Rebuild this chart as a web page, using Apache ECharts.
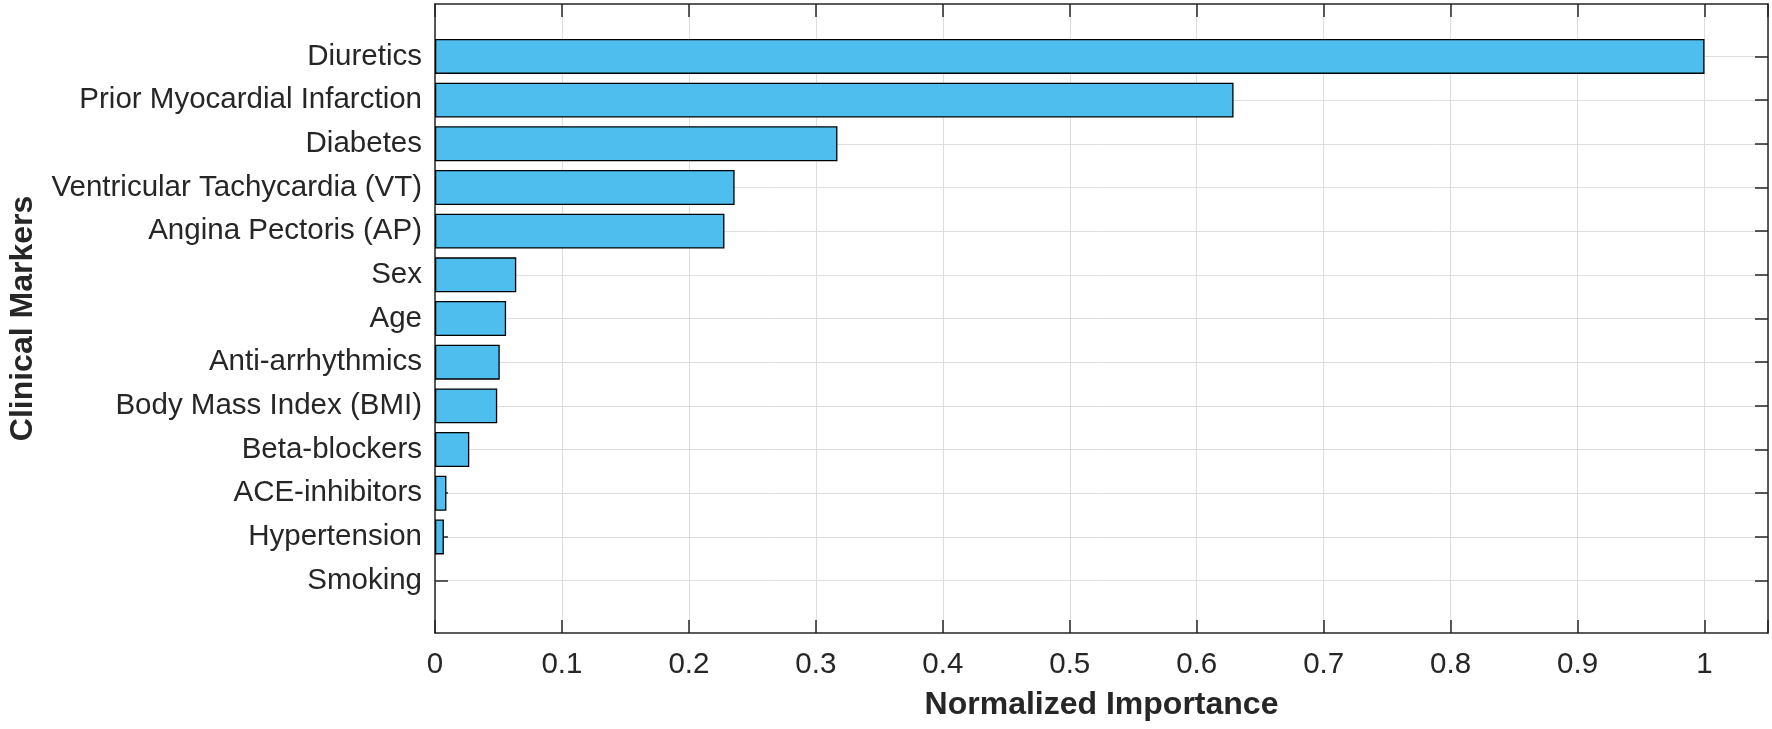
<!DOCTYPE html>
<html>
<head>
<meta charset="utf-8">
<script src="https://cdn.jsdelivr.net/npm/echarts@6/dist/echarts.min.js"></script>
<style>
html,body{margin:0;padding:0;background:#fff;}
#chart{width:1772px;height:729px;}
</style>
</head>
<body>
<div id="chart"></div>
<script>
// Data (top to bottom as in the picture)
const categories = [
  'Diuretics', 'Prior Myocardial Infarction', 'Diabetes', 'Ventricular Tachycardia (VT)',
  'Angina Pectoris (AP)', 'Sex', 'Age', 'Anti-arrhythmics', 'Body Mass Index (BMI)',
  'Beta-blockers', 'ACE-inhibitors', 'Hypertension', 'Smoking'
];
const importance = [1.0, 0.629, 0.317, 0.236, 0.228, 0.064, 0.056, 0.051, 0.049, 0.027, 0.009, 0.007, 0.0];
const xTicks = [0, 0.1, 0.2, 0.3, 0.4, 0.5, 0.6, 0.7, 0.8, 0.9, 1];

// Build bottom-to-top arrays padded with empty slots (axis limits beyond first/last bar)
const yCats = [''].concat(categories.slice().reverse(), ['']);
const yVals = ['-'].concat(importance.slice().reverse().map(function (v) {
  return v === 0 ? {value: v, itemStyle: {borderWidth: 0}} : v;
}), ['-']);

const FONT = 'Liberation Sans, Arial, Helvetica, sans-serif';
const DARK = '#262626';
const GRIDC = '#dedede';
const TICKFS = 29.5;

// layout
const L = 435, R = 4, T = 4, B = 96;
const H = 729 - T - B;
const unit = H / 14.4;
const pad = unit * 0.2;

const showCat = function (idx, val) { return val !== ''; };

const chart = echarts.init(document.getElementById('chart'), null, {renderer: 'canvas'});
chart.setOption({
  animation: false,
  backgroundColor: '#fff',
  grid: [
    {left: L, right: R, top: T, bottom: B, containLabel: false, outerBoundsMode: 'none'},
    {left: L, right: R, top: T + pad, bottom: B + pad, containLabel: false, outerBoundsMode: 'none'}
  ],
  xAxis: [
    {
      gridIndex: 0, type: 'value', min: 0, max: 1.05, interval: 0.1, position: 'bottom',
      axisLine: {show: true, onZero: false, lineStyle: {color: DARK, width: 1.5}},
      axisTick: {show: true, inside: true, length: 13, lineStyle: {color: DARK, width: 1.5}},
      axisLabel: {
        show: true, margin: 17, fontFamily: FONT, fontSize: TICKFS, color: DARK,
        formatter: function (v) {
          const r = Math.round(v * 10) / 10;
          return xTicks.indexOf(r) >= 0 && Math.abs(v - r) < 1e-6 ? String(r) : '';
        }
      },
      splitLine: {show: true, lineStyle: {color: GRIDC, width: 1}},
      name: 'Normalized Importance', nameLocation: 'middle', nameGap: 56,
      nameTextStyle: {fontFamily: FONT, fontSize: 32, fontWeight: 'bold', color: DARK}
    },
    {
      gridIndex: 0, type: 'value', min: 0, max: 1.05, interval: 0.1, position: 'top',
      axisLine: {show: true, onZero: false, lineStyle: {color: DARK, width: 1.5}},
      axisTick: {show: true, inside: true, length: 13, lineStyle: {color: DARK, width: 1.5}},
      axisLabel: {show: false}, splitLine: {show: false}
    },
    {
      gridIndex: 1, type: 'value', min: 0, max: 1.05, show: false
    }
  ],
  yAxis: [
    {
      gridIndex: 0, type: 'value', min: 0, max: 1, position: 'left',
      axisLine: {show: true, onZero: false, lineStyle: {color: DARK, width: 1.5}},
      axisTick: {show: false}, axisLabel: {show: false}, splitLine: {show: false},
      name: 'Clinical Markers', nameLocation: 'middle', nameGap: 396,
      nameTextStyle: {fontFamily: FONT, fontSize: 32, fontWeight: 'bold', color: DARK}
    },
    {
      gridIndex: 0, type: 'value', min: 0, max: 1, position: 'right',
      axisLine: {show: true, onZero: false, lineStyle: {color: DARK, width: 1.5}},
      axisTick: {show: false}, axisLabel: {show: false}, splitLine: {show: false}
    },
    {
      gridIndex: 1, type: 'category', data: yCats, boundaryGap: false, position: 'left',
      axisLine: {show: false},
      axisTick: {show: true, inside: true, length: 13, interval: showCat, lineStyle: {color: DARK, width: 1.5}},
      axisLabel: {show: true, interval: 0, margin: 13, fontFamily: FONT, fontSize: TICKFS, color: DARK},
      splitLine: {show: true, interval: showCat, lineStyle: {color: GRIDC, width: 1}}
    },
    {
      gridIndex: 1, type: 'category', data: yCats, boundaryGap: false, position: 'right',
      axisLine: {show: false},
      axisTick: {show: true, inside: true, length: 13, interval: showCat, lineStyle: {color: DARK, width: 1.5}},
      axisLabel: {show: false}, splitLine: {show: false}
    }
  ],
  series: [
    {
      type: 'bar', xAxisIndex: 2, yAxisIndex: 2, data: yVals, barWidth: '80%',
      itemStyle: {color: '#4DBEEE', borderColor: '#000000', borderWidth: 1.3},
      emphasis: {disabled: true}
    }
  ]
});
</script>
</body>
</html>
